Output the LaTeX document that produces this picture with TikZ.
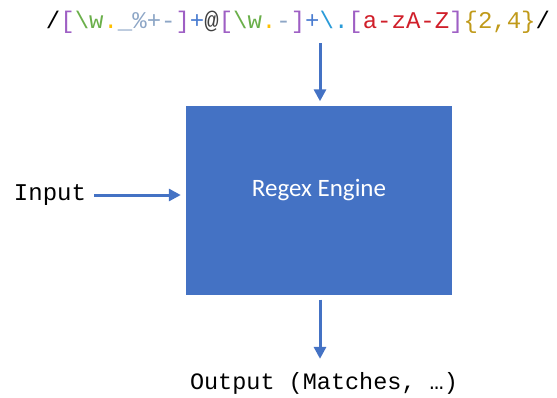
\documentclass[tikz,border=0pt]{standalone}
\usepackage{fontspec}
\setsansfont{Carlito}
\newfontfamily\codefont{Liberation Mono}
\usepackage{tikz}
\usetikzlibrary{arrows.meta}
\definecolor{boxblue}{HTML}{4472C4}
\definecolor{rxpurple}{HTML}{9E5FC4}
\definecolor{rxgreen}{HTML}{6AAF4A}
\definecolor{rxorange}{HTML}{FFC000}
\definecolor{rxgray}{HTML}{8DA6C6}
\definecolor{rxblue}{HTML}{4A7CD0}
\definecolor{rxat}{HTML}{404040}
\definecolor{rxcyan}{HTML}{2A9BD8}
\definecolor{rxred}{HTML}{D01F2A}
\definecolor{rxgold}{HTML}{C09A1A}
\tikzset{
    feedline/.style={boxblue, line width=3pt, -{Triangle[length=12pt,width=12pt]}},
    code/.style={inner sep=0pt, font=\codefont\fontsize{24}{27}\selectfont}
}

\begin{document}
\begin{tikzpicture}[x=1pt, y=-1pt]
    % Frame
    \useasboundingbox (0,0) rectangle (557,397);

    % Pattern on top
    \node[code] (regex) at (298,22) {/%
        \textcolor{rxpurple}{[}\textcolor{rxgreen}{\textbackslash w}\textcolor{rxorange}{.}\textcolor{rxgray}{\_\%+-}\textcolor{rxpurple}{]}%
        \textcolor{rxblue}{+}\textcolor{rxat}{@}%
        \textcolor{rxpurple}{[}\textcolor{rxgreen}{\textbackslash w}\textcolor{rxorange}{.}\textcolor{rxgray}{-}\textcolor{rxpurple}{]}%
        \textcolor{rxblue}{+}\textcolor{rxcyan}{\textbackslash .}%
        \textcolor{rxpurple}{[}\textcolor{rxred}{a-zA-Z}\textcolor{rxpurple}{]}%
        \textcolor{rxgold}{\{2,4\}}/};

    % Engine box
    \node[fill=boxblue, minimum width=266pt, minimum height=189pt, inner sep=0pt,
          text=white, font=\sffamily\fontsize{25}{30}\selectfont] (engine) at (319,200) {\raisebox{4pt}[0pt][0pt]{Regex Engine}};

    % Input and output
    \node[code] (input) at (50,195) {Input};
    \node[code, font=\codefont\fontsize{23.5}{27}\selectfont] (output) at (324,383) {Output (Matches, …)};

    % Arrows
    \draw[feedline, shorten <=10pt, shorten >=4pt] (regex.south -| 320,0) -- (engine.north -| 320,0);
    \draw[feedline, shorten <=8pt, shorten >=5pt] (input.east) -- (input.east -| engine.west);
    \draw[feedline, shorten <=5pt, shorten >=13pt] (engine.south -| 320,0) -- (output.north -| 320,0);
\end{tikzpicture}
\end{document}
